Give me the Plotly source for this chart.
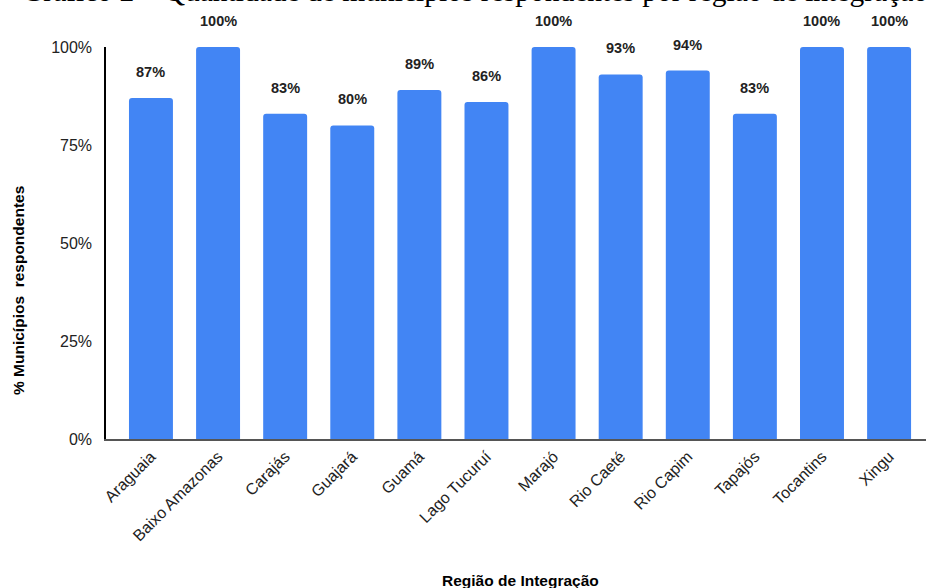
import plotly.graph_objects as go

# Share of municipalities that answered, per integration region
regioes = ["Araguaia", "Baixo Amazonas", "Carajás", "Guajará", "Guamá", "Lago Tucuruí",
           "Marajó", "Rio Caeté", "Rio Capim", "Tapajós", "Tocantins", "Xingu"]
percentuais = [87, 100, 83, 80, 89, 86, 100, 93, 94, 83, 100, 100]
ticks_y = [0, 25, 50, 75, 100]
ticks_y_texto = ["0%", "25%", "50%", "75%", "100%"]

AZUL = "#4285F4"
SANS = "Liberation Sans, Arial"

fig = go.Figure()
fig.add_trace(go.Bar(
    x=list(range(len(regioes))),
    y=percentuais,
    marker=dict(color=AZUL, line=dict(width=0), cornerradius=3),
    hoverinfo="skip",
))

# value labels above each bar
for i, v in enumerate(percentuais):
    fig.add_annotation(
        x=i, y=v, xref="x", yref="y", text=f"<b>{v}%</b>", showarrow=False,
        yanchor="bottom", yshift=16,
        font=dict(family=SANS, size=14.5, color="#222222"),
    )

# title line, mostly above the page edge
fig.add_annotation(
    xref="paper", yref="paper", x=-0.105, y=1.0, xanchor="left", yanchor="bottom",
    yshift=38,
    text="Gráfico 2 – Quantidade de municípios respondentes por região de integração",
    showarrow=False,
    font=dict(family="Liberation Serif, Times New Roman", size=29.5, color="#000000"),
)

# axis titles
fig.add_annotation(
    xref="paper", yref="paper", x=0.505, y=0, xanchor="center", yanchor="middle",
    yshift=-141, text="<b>Região de Integração</b>", showarrow=False,
    font=dict(family=SANS, size=15.5, color="#000000"),
)
fig.add_annotation(
    xref="paper", yref="paper", x=0, y=0.5, xanchor="center", yanchor="middle",
    xshift=-88, yshift=-48, textangle=-90,
    text="<b>% Municípios  respondentes</b>", showarrow=False,
    font=dict(family=SANS, size=15.5, color="#000000"),
)

fig.update_layout(
    width=926, height=588,
    margin=dict(l=106, r=0, t=47, b=149),
    paper_bgcolor="white", plot_bgcolor="white",
    bargap=0.345,
    showlegend=False,
    xaxis=dict(
        tickmode="array", tickvals=list(range(len(regioes))), ticktext=regioes,
        tickangle=-45, range=[-0.67, 11.55],
        tickfont=dict(family=SANS, size=16, color="#222222"),
        showgrid=False, zeroline=False,
        showline=True, linecolor="#555555", linewidth=2,
        ticks="", fixedrange=True,
    ),
    yaxis=dict(
        range=[0, 100], tickvals=ticks_y, ticktext=ticks_y_texto,
        tickfont=dict(family=SANS, size=16, color="#222222"),
        showgrid=False, zeroline=False,
        showline=True, linecolor="#000000", linewidth=1.5,
        ticks="outside", ticklen=9, tickcolor="white",
        fixedrange=True,
    ),
)

fig.write_html("out.html")
